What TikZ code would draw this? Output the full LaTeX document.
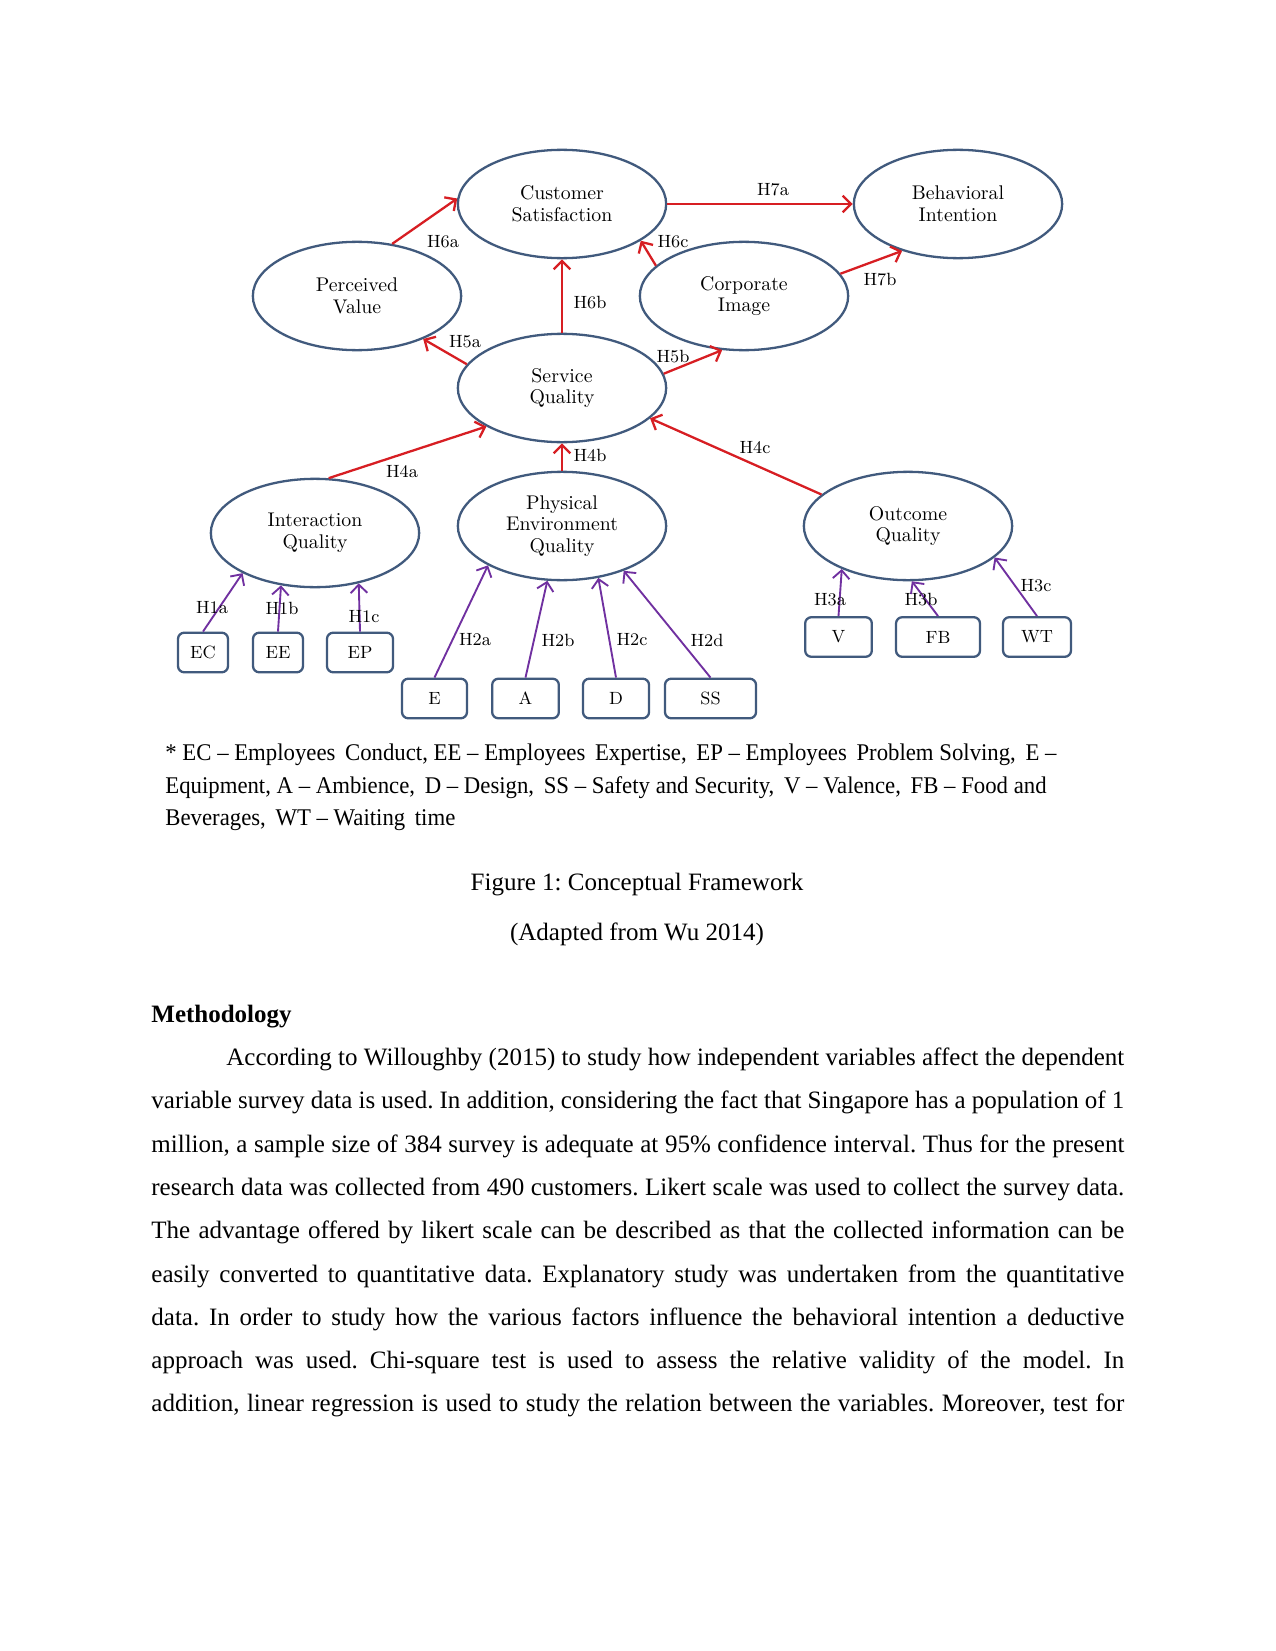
\documentclass[tikz,border=0pt]{standalone}
\usepackage{fontspec}
\newfontfamily\tnr{Liberation Serif}
\newfontfamily\tnrc[FakeStretch=0.95]{Liberation Serif}
\usetikzlibrary{shapes.geometric,arrows.meta}
\definecolor{ellc}{RGB}{65,90,125}
\definecolor{redc}{RGB}{215,30,35}
\definecolor{purc}{RGB}{112,48,160}
\newcommand{\nd}{\textendash}
\newcommand{\bline}[1]{\makebox[467pt][s]{#1}}
\frenchspacing
\begin{document}
\begin{tikzpicture}[x=0.48pt,y=-0.48pt,
 ell/.style={ellipse,draw=ellc,line width=1.1pt,inner sep=0pt,minimum width=100pt,minimum height=52pt,align=center,font=\fontsize{9.5}{10.4}\selectfont},
 box/.style={draw=ellc,line width=1.1pt,rounded corners=3pt,minimum height=19pt,inner sep=0pt,font=\fontsize{8.5}{9}\selectfont},
 hl/.style={font=\fontsize{8.5}{9}\selectfont,inner sep=0pt},
 rarr/.style={draw=redc,line width=1.1pt,-{Straight Barb[length=4pt,width=8pt,line width=1.1pt]}},
 parr/.style={draw=purc,line width=0.9pt,-{Straight Barb[length=4pt,width=8pt,line width=0.9pt]}},
 notel/.style={anchor=base west,inner sep=0pt,font=\tnrc\fontsize{11.5}{13}\selectfont},
 bodyl/.style={anchor=base west,inner sep=0pt,font=\tnr\fontsize{12}{14}\selectfont},
 plain/.style={inner sep=0pt,font=\tnr\fontsize{12}{14}\selectfont}]
\useasboundingbox (0,0) rectangle (1275,1651);
\fill[white] (0,0) rectangle (1275,1651);

% ellipses
\node[ell] (cs) at (562,204) {Customer\\Satisfaction};
\node[ell] (pv) at (357,296) {Perceived\\Value};
\node[ell] (bi) at (958,204) {Behavioral\\Intention};
\node[ell] (ci) at (744,296) {Corporate\\Image};
\node[ell] (sq) at (562,388) {Service\\Quality};
\node[ell] (iq) at (315,533) {Interaction\\Quality};
\node[ell] (pe) at (562,526) {Physical\\Environment\\Quality};
\node[ell] (oq) at (908,526) {Outcome\\Quality};

% boxes
\node[box,minimum width=24pt] (ec) at (203,652.5) {EC};
\node[box,minimum width=24pt] (ee) at (278,652.5) {EE};
\node[box,minimum width=31.7pt] (ep) at (360,652.5) {EP};
\node[box,minimum width=31.2pt] (e) at (434.5,698.5) {E};
\node[box,minimum width=32pt] (a) at (525.5,698.5) {A};
\node[box,minimum width=31.7pt] (d) at (616,698.5) {D};
\node[box,minimum width=43.7pt] (ss) at (710.5,698.5) {SS};
\node[box,minimum width=32pt] (v) at (838.5,637) {V};
\node[box,minimum width=40.3pt] (fb) at (938,637) {FB};
\node[box,minimum width=32.6pt] (wt) at (1037,637) {WT};

% red arrows
\draw[rarr] (pv.56) -- (cs.177);
\draw[rarr] (sq.north) -- (cs.south);
\draw[rarr] (ci.161) -- (cs.-25);
\draw[rarr] (sq.166) -- (pv.-33);
\draw[rarr] (cs.east) -- (bi.west);
\draw[rarr] (ci.13) -- (bi.220);
\draw[rarr] (sq.8) -- (ci.248);
\draw[rarr] (iq.76) -- (sq.207);
\draw[rarr] (pe.north) -- (sq.south);
\draw[rarr] (oq.160) -- (sq.-19);

% purple arrows
\draw[parr] (ec.north) -- (iq.209);
\draw[parr] (ee.north) -- (iq.237);
\draw[parr] (ep.north) -- (iq.-49);
\draw[parr] (e.north) -- (pe.208);
\draw[parr] (a.north) -- (pe.255);
\draw[parr] (d.north) -- (pe.-55);
\draw[parr] (ss.north) -- (pe.-36);
\draw[parr] (v.north) -- (oq.213);
\draw[parr] (fb.north) -- (oq.274);
\draw[parr] (wt.north) -- (oq.-20);

% labels
\node[hl] (l6a) at (443,242) {H6a};
\node[hl] (l6b) at (590,303) {H6b};
\node[hl] (l6c) at (673,242) {H6c};
\node[hl] (l5a) at (465,342) {H5a};
\node[hl] (l5b) at (673,357) {H5b};
\node[hl] (l7a) at (773,190) {H7a};
\node[hl] (l7b) at (880,280) {H7b};
\node[hl] (l4a) at (402,472) {H4a};
\node[hl] (l4b) at (590,455) {H4b};
\node[hl] (l4c) at (755,448) {H4c};
\node[hl] (l1a) at (212,608) {H1a};
\node[hl] (l1b) at (282,608) {H1b};
\node[hl] (l1c) at (364,617) {H1c};
\node[hl] (l2a) at (475,640) {H2a};
\node[hl] (l2b) at (558,640) {H2b};
\node[hl] (l2c) at (632,640) {H2c};
\node[hl] (l2d) at (707,640) {H2d};
\node[hl] (l3a) at (830,600) {H3a};
\node[hl] (l3b) at (921,600) {H3b};
\node[hl] (l3c) at (1036,586) {H3c};

% note
\node[notel] (n1) at (165,760) {* EC \nd{} Employees\, Conduct, EE \nd{} Employees\, Expertise,\, EP \nd{} Employees\, Problem Solving,\, E \nd};
\node[notel] (n2) at (165,793) {Equipment, A \nd{} Ambience,\, D \nd{} Design,\, SS \nd{} Safety and Security,\, V \nd{} Valence,\, FB \nd{} Food and};
\node[notel] (n3) at (165,825.5) {Beverages,\, WT \nd{} Waiting\, time};

% caption
\node[plain,anchor=base] (cap1) at (637,890) {Figure 1: Conceptual Framework};
\node[plain,anchor=base] (cap2) at (637,940) {(Adapted from Wu 2014)};

% methodology
\node[plain,anchor=base west,font=\tnr\bfseries\fontsize{12}{14}\selectfont] (meth) at (151,1022) {Methodology};
\node[bodyl] (b1) at (151,1065.5) {\bline{\hspace*{36pt}According to Willoughby (2015) to study how independent variables affect the dependent}};
\node[bodyl] (b2) at (151,1108.8) {\bline{variable survey data is used. In addition, considering the fact that Singapore has a population of 1}};
\node[bodyl] (b3) at (151,1152.1) {\bline{million, a sample size of 384 survey is adequate at 95\% confidence interval. Thus for the present}};
\node[bodyl] (b4) at (151,1195.4) {\bline{research data was collected from 490 customers. Likert scale was used to collect the survey data.}};
\node[bodyl] (b5) at (151,1238.7) {\bline{The advantage offered by likert scale can be described as that the collected information can be}};
\node[bodyl] (b6) at (151,1282.0) {\bline{easily converted to quantitative data. Explanatory study was undertaken from the quantitative}};
\node[bodyl] (b7) at (151,1325.3) {\bline{data. In order to study how the various factors influence the behavioral intention a deductive}};
\node[bodyl] (b8) at (151,1368.6) {\bline{approach was used. Chi-square test is used to assess the relative validity of the model. In}};
\node[bodyl] (b9) at (151,1411.9) {\bline{addition, linear regression is used to study the relation between the variables. Moreover, test for}};
\end{tikzpicture}
\end{document}
